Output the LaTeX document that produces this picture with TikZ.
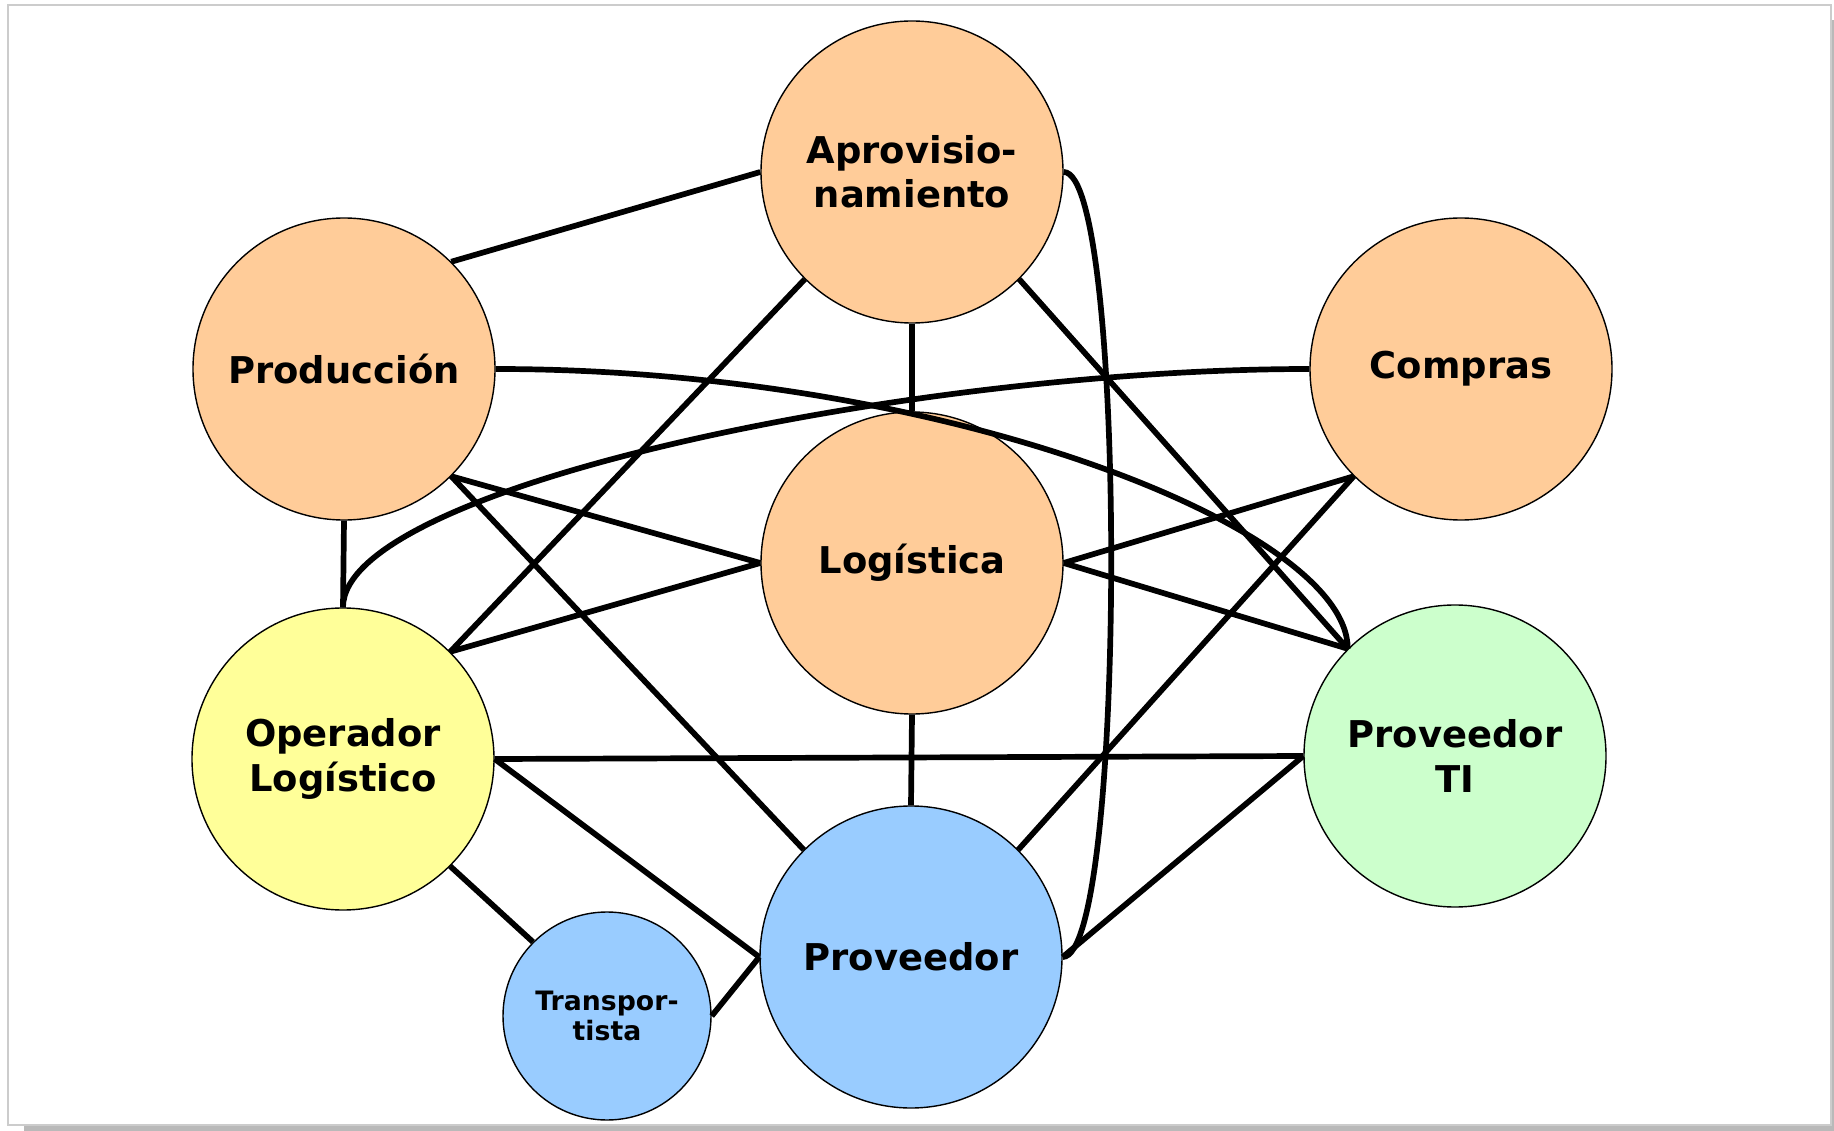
\documentclass[tikz,border=0pt]{standalone}
\usepackage{fontspec}
\setmainfont{DejaVu Sans}
\definecolor{peach}{HTML}{FFCC99}
\definecolor{paleyellow}{HTML}{FFFF99}
\definecolor{palegreen}{HTML}{CCFFCC}
\definecolor{paleblue}{HTML}{99CCFF}
\begin{document}
\begin{tikzpicture}[x=0.1mm,y=-0.1mm,
  area/.style={circle,draw,line width=0.14mm,minimum size=30.2mm,inner sep=0pt,
    align=center,font=\fontsize{10.5}{12.6}\selectfont\bfseries},
  link/.style={line width=0.57mm}]
      \useasboundingbox (0,0) rectangle (1834,1131);
      \fill[gray!55] (24,20) rectangle (1834,1131);
      \draw[fill=white,draw=gray!40,line width=0.2mm] (8,5) rectangle (1831,1125);
      \node[area,fill=peach] (aprov) at (912,172) {Aprovisio-\\namiento};
      \node[area,fill=peach] (prod) at (344,369) {Producción};
      \node[area,fill=peach] (compras) at (1461,369) {Compras};
      \node[area,fill=peach] (logist) at (912,563) {Logística};
      \node[area,fill=paleyellow] (oper) at (343,759) {Operador\\Logístico};
      \node[area,fill=palegreen] (provti) at (1455,756) {Proveedor\\TI};
      \node[area,fill=paleblue] (prov) at (911,957) {Proveedor};
      \node[area,fill=paleblue,minimum size=20.8mm,
      font=\fontsize{7.6}{8.6}\selectfont\bfseries] (transp) at (607,1016)
      {Transpor-\\tista};
      \draw[link] (prod.north east) to (aprov.west);
      \draw[link] (prod.south) to (oper.north);
      \draw[link] (prod.south east) to (logist.west);
      \draw[link] (prod.south east) to (prov.north west);
      \draw[link] (prod.east) .. controls +(450,0) and +(0,-120) .. (provti.north west);
      \draw[link] (aprov.south) to (logist.north);
      \draw[link] (aprov.south west) to (oper.north east);
      \draw[link] (aprov.south east) to (provti.north west);
      \draw[link] (aprov.east) .. controls +(64,0) and +(64,0) .. (prov.east);
      \draw[link] (compras.west) .. controls +(-400,0) and +(0,-120) .. (oper.north);
      \draw[link] (compras.south west) to (logist.east);
      \draw[link] (compras.south west) to (prov.north east);
      \draw[link] (logist.west) to (oper.north east);
      \draw[link] (logist.east) to (provti.north west);
      \draw[link] (logist.south) to (prov.north);
      \draw[link] (oper.east) to (provti.west);
      \draw[link] (oper.east) to (prov.west);
      \draw[link] (oper.south east) to (transp.north west);
      \draw[link] (transp.east) to (prov.west);
      \draw[link] (prov.east) to (provti.west);
\end{tikzpicture}
\end{document}
